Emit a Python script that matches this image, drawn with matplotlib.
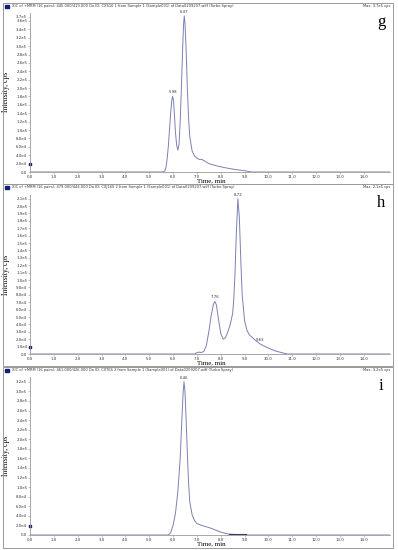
import numpy as np
import matplotlib.pyplot as plt
from matplotlib.patches import Rectangle

# ---- data (time in min, intensity in cps) ----
t_g = [0.0, 5.55, 5.65, 5.7, 5.75, 5.8, 5.85, 5.9, 5.95, 5.98, 6.02, 6.06, 6.1, 6.15,
       6.2, 6.25, 6.3, 6.35, 6.4, 6.44, 6.47, 6.5, 6.55, 6.6, 6.65, 6.7, 6.8, 6.9,
       7.0, 7.1, 7.2, 7.3, 7.5, 7.8, 8.2, 8.6, 9.0, 9.3, 15.1]
i_g = [0, 0, 2e3, 1.0e4, 3.0e4, 6.0e4, 1.0e5, 1.4e5, 1.72e5, 1.80e5, 1.7e5, 1.35e5, 9.5e4, 6.5e4,
       5.2e4, 6.5e4, 1.2e5, 2.0e5, 2.9e5, 3.5e5, 3.72e5, 3.55e5, 2.9e5, 2.0e5, 1.3e5, 8.5e4, 5.0e4, 3.8e4,
       3.3e4, 3.0e4, 3.0e4, 2.7e4, 2.0e4, 1.5e4, 1.0e4, 6e3, 3e3, 0, 0]

t_h = [0.0, 6.9, 7.0, 7.1, 7.2, 7.3, 7.4, 7.5, 7.6, 7.7, 7.76, 7.82, 7.9, 8.0, 8.1,
       8.2, 8.3, 8.4, 8.5, 8.55, 8.6, 8.65, 8.72, 8.78, 8.85, 8.9, 9.0, 9.1, 9.2,
       9.4, 9.63, 9.8, 10.0, 10.3, 10.6, 10.8, 15.1]
i_h = [0, 0, 2e3, 2.5e3, 2e3, 4e3, 1.2e4, 3.0e4, 5.2e4, 6.8e4, 7.1e4, 6.6e4, 4.8e4, 2.8e4, 2.0e4,
       2.2e4, 3.0e4, 4.0e4, 5.5e4, 7.5e4, 1.1e5, 1.6e5, 2.1e5, 1.85e5, 1.2e5, 8.0e4, 4.5e4, 3.2e4, 2.6e4,
       2.0e4, 1.4e4, 1.1e4, 8e3, 4e3, 1.5e3, 0, 0]

t_i = [0.0, 5.8, 5.9, 6.0, 6.1, 6.2, 6.3, 6.36, 6.42, 6.46, 6.5, 6.55, 6.6, 6.65, 6.7,
       6.8, 6.9, 7.0, 7.2, 7.4, 7.6, 7.8, 8.0, 8.3, 8.6, 9.0, 15.1]
i_i = [0, 0, 5e3, 2.0e4, 4.5e4, 9.0e4, 1.6e5, 2.3e5, 2.95e5, 3.2e5, 3.0e5, 2.4e5, 1.7e5, 1.1e5, 7.0e4,
       4.2e4, 3.0e4, 2.4e4, 2.0e4, 1.7e4, 1.4e4, 1.0e4, 6e3, 2e3, 1e3, 0, 0]

peaks_g = [(5.98, 1.80e5, "5.98"), (6.47, 3.72e5, "6.47")]
peaks_h = [(7.76, 7.1e4, "7.76"), (8.72, 2.1e5, "8.72"), (9.63, 1.4e4, "9.63")]
peaks_i = [(6.46, 3.2e5, "6.46")]

yticks_g = list(np.arange(0, 3.61e5, 2e4)) + [3.7e5]
yticks_h = list(np.arange(0, 2.11e5, 1e4))
yticks_i = list(np.arange(0, 3.21e5, 2e4))
xticks = list(np.arange(0, 14.1, 1.0))

headers = [
    "XIC of +MRM (16 pairs): 445.000/419.000 Da ID: CXS16 1 from Sample 1 (Sample001) of Data0209207.wiff (Turbo Spray)",
    "XIC of +MRM (16 pairs): 479.000/444.000 Da ID: CXJ16S 2 from Sample 1 (Sample001) of Data0209207.wiff (Turbo Spray)",
    "XIC of +MRM (16 pairs): 461.000/426.000 Da ID: CXT6S 2 from Sample 1 (Sample001) of Data0209207.wiff (Turbo Spray)",
]
max_labels = ["Max. 3.7e5 cps", "Max. 2.1e5 cps", "Max. 3.2e5 cps"]
letters = ["g", "h", "i"]
thresholds = [2.0e4, 1.0e4, 1.8e4]


def fmt(v):
    if v == 0:
        return "0.0"
    m, e = f"{v:.1e}".split("e")
    return f"{m}e{int(e)}"


W, H = 398, 550
fig = plt.figure(figsize=(W / 100, H / 100), dpi=100)

line_col = "#7c80b4"
grey = "#9a9a9a"
serif = ["Liberation Serif", "DejaVu Serif"]

# pixel layout of each panel: box top, box bottom, axis top, axis bottom, ymax
panels = [
    (t_g, i_g, peaks_g, yticks_g, 3, 184, 12.6, 172, 3.8e5),
    (t_h, i_h, peaks_h, yticks_h, 184, 366, 195, 354, 2.15e5),
    (t_i, i_i, peaks_i, yticks_i, 367, 548, 377, 535, 3.3e5),
]

for k, (t, y, pk, yt, btop, bbot, atop, abot, ymax) in enumerate(panels):
    # panel frame
    fig.patches.append(Rectangle((3 / W, 1 - bbot / H), 390 / W, (bbot - btop) / H,
                                 transform=fig.transFigure, fill=False,
                                 edgecolor=grey, lw=0.7))
    # header
    fig.patches.append(Rectangle((5 / W, 1 - (btop + 5) / H), 4 / W, 3 / H,
                                 transform=fig.transFigure, color="#1a1a7a"))
    fig.text(12 / W, 1 - (btop + 3.5) / H, headers[k], fontsize=2.6, va="center",
             color="#333333")
    fig.text(390 / W, 1 - (btop + 3.5) / H, max_labels[k], fontsize=2.6, va="center",
             ha="right", color="#333333")

    ax = fig.add_axes([30 / W, 1 - abot / H, 360 / W, (abot - atop) / H])
    ax.plot(t, y, color=line_col, lw=0.7)
    ax.set_xlim(0, 15.1)
    ax.set_ylim(0, ymax)
    for s in ["top", "right"]:
        ax.spines[s].set_visible(False)
    for s in ["left", "bottom"]:
        ax.spines[s].set_color(grey)
        ax.spines[s].set_linewidth(0.6)
    ax.set_yticks(yt)
    ax.set_yticklabels([fmt(v) for v in yt])
    ax.set_xticks(xticks)
    ax.set_xticklabels([f"{v:.1f}" for v in xticks])
    ax.set_xticks(np.arange(0, 15.01, 0.2), minor=True)
    ax.tick_params(labelsize=2.8, length=1.5, width=0.4, color=grey, pad=0.5,
                   labelcolor="#333333")
    ax.tick_params(which="minor", length=0.8, width=0.3, color=grey)

    for (px, py, lab) in pk:
        ax.annotate(lab, (px, py), xytext=(0, 1.5), textcoords="offset points",
                    ha="center", va="bottom", fontsize=2.8, color="#333333")

    # threshold marker on y axis
    ax.plot([0], [thresholds[k]], marker="s", ms=1.8, color="#1a1a7a",
            clip_on=False)

    ax.set_ylabel("Intensity, cps", family=serif, fontsize=5.5, labelpad=3)
    ax.yaxis.set_label_coords(-0.055, 0.5)
    fig.text(211 / W, 1 - (abot + 9.3) / H, "Time, min", family=serif, fontsize=5.0,
             ha="center", va="center")

    fig.text(381 / W, 1 - (btop + 19) / H, letters[k], family=serif, fontsize=12,
             ha="center", va="center")

# small integration baseline in panel i
fig.axes[2].plot([8.35, 9.05], [1.2e3, 1.2e3], color="#3a3a6a", lw=0.8)

fig.savefig("out.png", dpi=100)
